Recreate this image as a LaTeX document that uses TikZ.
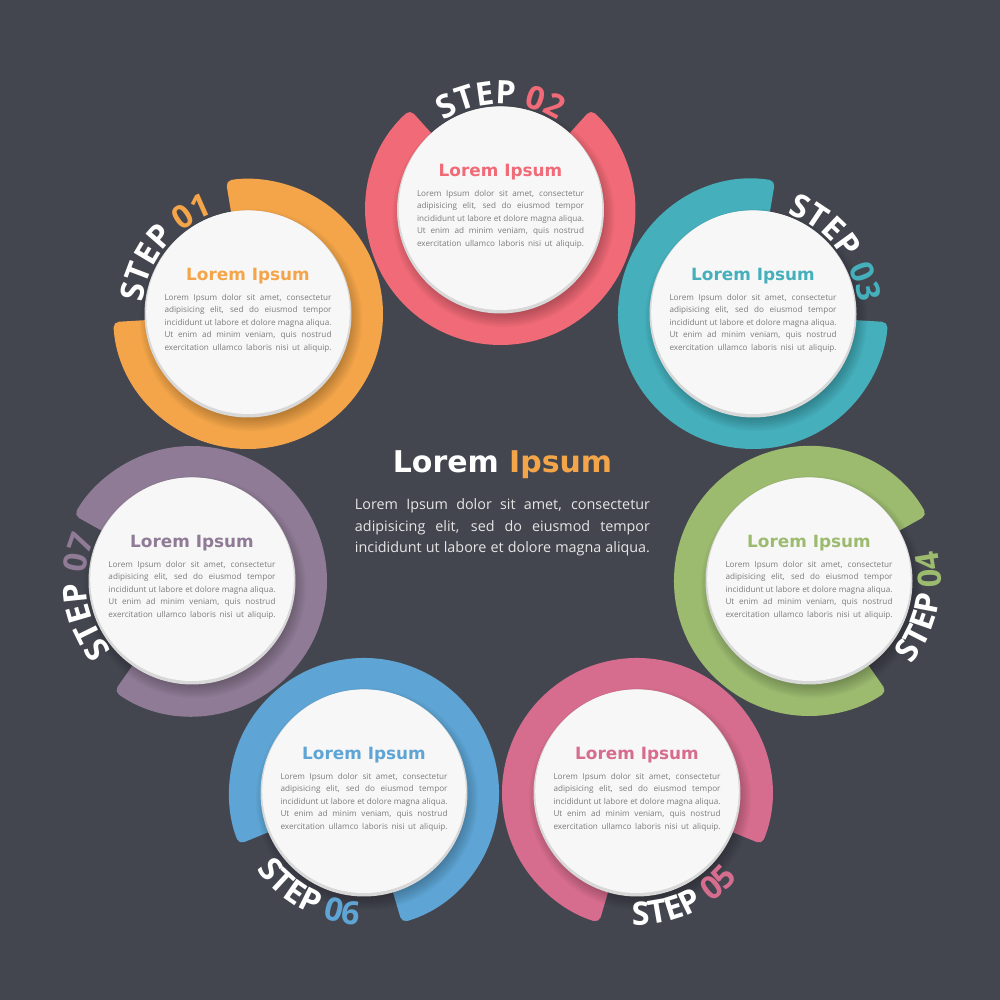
\documentclass[tikz,border=0pt]{standalone}
\usepackage{fontspec}
\setmainfont{Open Sans}
\newfontfamily\titlefont{DejaVu Sans}
\usetikzlibrary{decorations.text}
\definecolor{bg}{HTML}{44464F}
\definecolor{corange}{HTML}{F4A549}
\definecolor{cred}{HTML}{F06A77}
\definecolor{cteal}{HTML}{45AFBC}
\definecolor{cgreen}{HTML}{9CBB6F}
\definecolor{cpink}{HTML}{D76D8E}
\definecolor{cblue}{HTML}{5EA5D5}
\definecolor{cpurple}{HTML}{8F7B96}
\definecolor{discwhite}{HTML}{F7F7F7}
\definecolor{rimgray}{HTML}{D8D8D8}
\definecolor{bodygray}{HTML}{7B7B7B}
\definecolor{centerbody}{HTML}{E6E6E6}
\newcommand\stepfont{\fontsize{23pt}{27pt}\selectfont\bfseries}
\newcommand\bodylines[3]{\vtop{\fontsize{#2}{#3}\selectfont\baselineskip=#3
  \hbox{\makebox[#1][s]{Lorem Ipsum dolor sit amet, consectetur}}
  \hbox{\makebox[#1][s]{adipisicing elit, sed do eiusmod tempor}}
  \hbox{\makebox[#1][s]{incididunt ut labore et dolore magna aliqua.}}
  \hbox{\makebox[#1][s]{Ut enim ad minim veniam, quis nostrud}}
  \hbox{\makebox[#1][s]{exercitation ullamco laboris nisi ut aliquip.}}}}
\newcommand\centerlines[3]{\vtop{\fontsize{#2}{#3}\selectfont\baselineskip=#3
  \hbox{\makebox[#1][s]{Lorem Ipsum dolor sit amet, consectetur}}
  \hbox{\makebox[#1][s]{adipisicing elit, sed do eiusmod tempor}}
  \hbox{\makebox[#1][s]{incididunt ut labore et dolore magna aliqua.}}}}
\tikzset{
  ringband/.style={fill=#1, rounded corners=4},
  discshadow/.style={fill=black, opacity=0.035},
  disctitle/.style={anchor=base, inner sep=0, text=#1,
    font=\titlefont\bfseries\fontsize{12pt}{14pt}\selectfont},
  discbody/.style={anchor=base, inner sep=0, text=bodygray},
}
% #1 name, #2 x, #3 y, #4 colour, #5 gap angle, #6 number, #7 direction sign, #8 text radius, #9 text angle
\newcommand\stepcircle[9]{%
  \coordinate (#1) at (#2,#3);
  \fill[ringband=#4] ([shift={({#5+42}:96)}]#1) -- ([shift={({#5+42}:135)}]#1)
    arc[start angle={#5+42}, end angle={#5+318}, radius=135]
    -- ([shift={({#5+318}:96)}]#1)
    arc[start angle={#5+318}, end angle={#5+42}, radius=96] -- cycle;
  \foreach \i in {1,...,7} {\fill[discshadow] ([shift={(3,-6)}]#1) circle[radius={97+2*\i}];}
  \fill[rimgray] (#1) circle[radius=103.5];
  \fill[discwhite] ([shift={(0,1.8)}]#1) circle[radius=101.8];
  \node[disctitle=#4] (#1title) at ([shift={(0,33)}]#1) {Lorem Ipsum};
  \node[discbody] (#1body) at ([shift={(0,13.5)}]#1) {\bodylines{41.75mm}{5.8pt}{3.125mm}};
  \path[decorate, decoration={text along path, text align=center,
      text={|\stepfont\color{white}|STEP |\stepfont\color{#4}|#6}}]
    ([shift={({#9+45*#7}:#8)}]#1) arc[start angle={#9+45*#7}, end angle={#9-45*#7}, radius=#8];
}
\begin{document}
\begin{tikzpicture}[x=0.25mm, y=0.25mm]
\useasboundingbox (0,0) rectangle (1000,1000);
\fill[bg] (0,0) rectangle (1000,1000);
\stepcircle{s1}{248}{686}{corange}{141.43}{01}{1}{106}{141.43}
\stepcircle{s2}{500.5}{790}{cred}{90}{02}{1}{106}{90}
\stepcircle{s3}{753}{686}{cteal}{38.57}{03}{1}{106}{38.57}
\stepcircle{s4}{809}{419}{cgreen}{-12.86}{04}{-1}{132}{-12.86}
\stepcircle{s5}{637}{207}{cpink}{-64.29}{05}{-1}{132}{-66}
\stepcircle{s6}{364}{207}{cblue}{-115.71}{06}{-1}{132}{-118.5}
\stepcircle{s7}{192}{419}{cpurple}{192.86}{07}{1}{106}{188.5}
\node[anchor=base, inner sep=0, font=\titlefont\bfseries\fontsize{21.3pt}{25pt}\selectfont] (maintitle) at (502.5,527) {\textcolor{white}{Lorem} \textcolor{corange}{Ipsum}};
\node[anchor=base, inner sep=0, text=centerbody] (mainbody) at (502.5,490) {\centerlines{73.75mm}{10.2pt}{5.375mm}};
\end{tikzpicture}
\end{document}
